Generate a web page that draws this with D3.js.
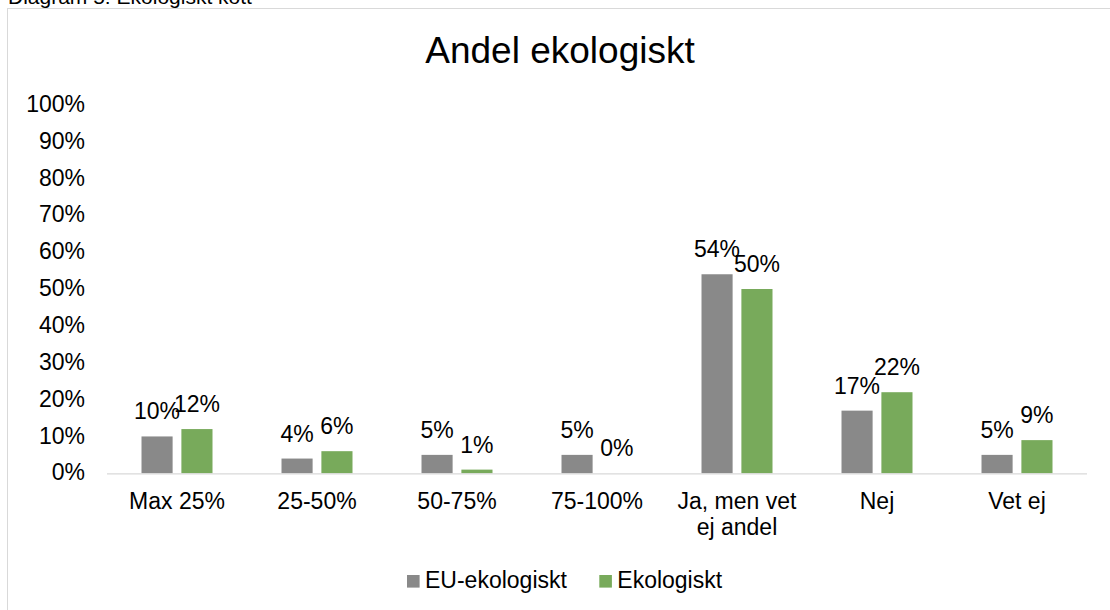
<!DOCTYPE html>
<html>
<head>
<meta charset="utf-8">
<script src="https://cdn.jsdelivr.net/npm/d3@7"></script>
<style>
  html, body { margin: 0; padding: 0; background: #fff; }
  svg { display: block; font-family: "Liberation Sans", Arial, sans-serif; }
</style>
</head>
<body>
<svg id="chart" width="1110" height="610"></svg>
<script>
const categories = ["Max 25%", "25-50%", "50-75%", "75-100%", "Ja, men vet ej andel", "Nej", "Vet ej"];
const categoryLines = [["Max 25%"], ["25-50%"], ["50-75%"], ["75-100%"], ["Ja, men vet", "ej andel"], ["Nej"], ["Vet ej"]];
const seriesNames = ["EU-ekologiskt", "Ekologiskt"];
const euValues = [0.10, 0.04, 0.05, 0.05, 0.54, 0.17, 0.05];
const ekoValues = [0.12, 0.06, 0.01, 0.00, 0.50, 0.22, 0.09];
const yTicks = [0, 0.1, 0.2, 0.3, 0.4, 0.5, 0.6, 0.7, 0.8, 0.9, 1.0];
const colors = ["#898989", "#78aa5b"];

const svg = d3.select("#chart");
const left = 107, right = 1087, y0 = 473.3, y1 = 104.7;

// caption + frame
svg.append("text").attr("x", 8).attr("y", 4).attr("font-size", 21).attr("fill", "#000")
  .text("Diagram 5: Ekologiskt kött");
svg.append("rect").attr("x", 7.5).attr("y", 8.5).attr("width", 1120).attr("height", 620)
  .attr("fill", "none").attr("stroke", "#d9d9d9").attr("stroke-width", 1);

// title
svg.append("text").attr("x", 560).attr("y", 63.3).attr("text-anchor", "middle")
  .attr("font-size", 37).attr("fill", "#000").text("Andel ekologiskt");

const x = d3.scaleBand().domain(categories).range([left, right]).paddingInner(0).paddingOuter(0);
const x1 = d3.scaleBand().domain(seriesNames).range([34.5, 140 - 34.5]).paddingInner(0.22);
const y = d3.scaleLinear().domain([0, 1]).range([y0, y1]);

// y axis labels
const yAxis = d3.axisLeft(y).tickValues(yTicks).tickFormat(d3.format(".0%")).tickSize(0).tickPadding(0);
const yg = svg.append("g").attr("transform", "translate(85,0)").call(yAxis);
yg.select(".domain").remove();
yg.selectAll("text").attr("font-size", 23).attr("fill", "#000")
  .attr("font-family", "Liberation Sans, Arial, sans-serif").attr("dy", "0.29em");

// bars
const data = categories.map((c, i) => ({ c, vals: [euValues[i], ekoValues[i]] }));
const groups = svg.selectAll("g.cat").data(data).join("g").attr("class", "cat")
  .attr("transform", d => `translate(${x(d.c)},0)`);
groups.selectAll("rect").data(d => d.vals.map((v, j) => ({ v, s: seriesNames[j], j })))
  .join("rect")
  .attr("x", d => x1(d.s)).attr("width", x1.bandwidth())
  .attr("y", d => y(d.v)).attr("height", d => y0 - y(d.v))
  .attr("fill", d => colors[d.j]);
groups.selectAll("text.lbl").data(d => d.vals.map((v, j) => ({ v, s: seriesNames[j], j })))
  .join("text").attr("class", "lbl")
  .attr("x", d => x1(d.s) + x1.bandwidth() / 2).attr("y", d => y(d.v) - 17)
  .attr("text-anchor", "middle").attr("font-size", 23).attr("fill", "#000")
  .text(d => d3.format(".0%")(d.v));

// x axis line
svg.append("line").attr("x1", left).attr("x2", right).attr("y1", y0 + 0.5).attr("y2", y0 + 0.5)
  .attr("stroke", "#d9d9d9").attr("stroke-width", 1.2);

// x labels
categoryLines.forEach((lines, i) => {
  const t = svg.append("text").attr("x", x(categories[i]) + x.bandwidth() / 2).attr("y", 509.3)
    .attr("text-anchor", "middle").attr("font-size", 23).attr("fill", "#000");
  lines.forEach((l, k) => t.append("tspan").attr("x", x(categories[i]) + x.bandwidth() / 2)
    .attr("dy", k === 0 ? 0 : 26).text(l));
});

// legend
const legendItems = [{ name: seriesNames[0], x: 407 }, { name: seriesNames[1], x: 599.3 }];
legendItems.forEach((it, i) => {
  svg.append("rect").attr("x", it.x).attr("y", 575).attr("width", 12.6).attr("height", 12.6).attr("fill", colors[i]);
  svg.append("text").attr("x", it.x + 18).attr("y", 588.3).attr("font-size", 23).attr("fill", "#000").text(it.name);
});
</script>
</body>
</html>
